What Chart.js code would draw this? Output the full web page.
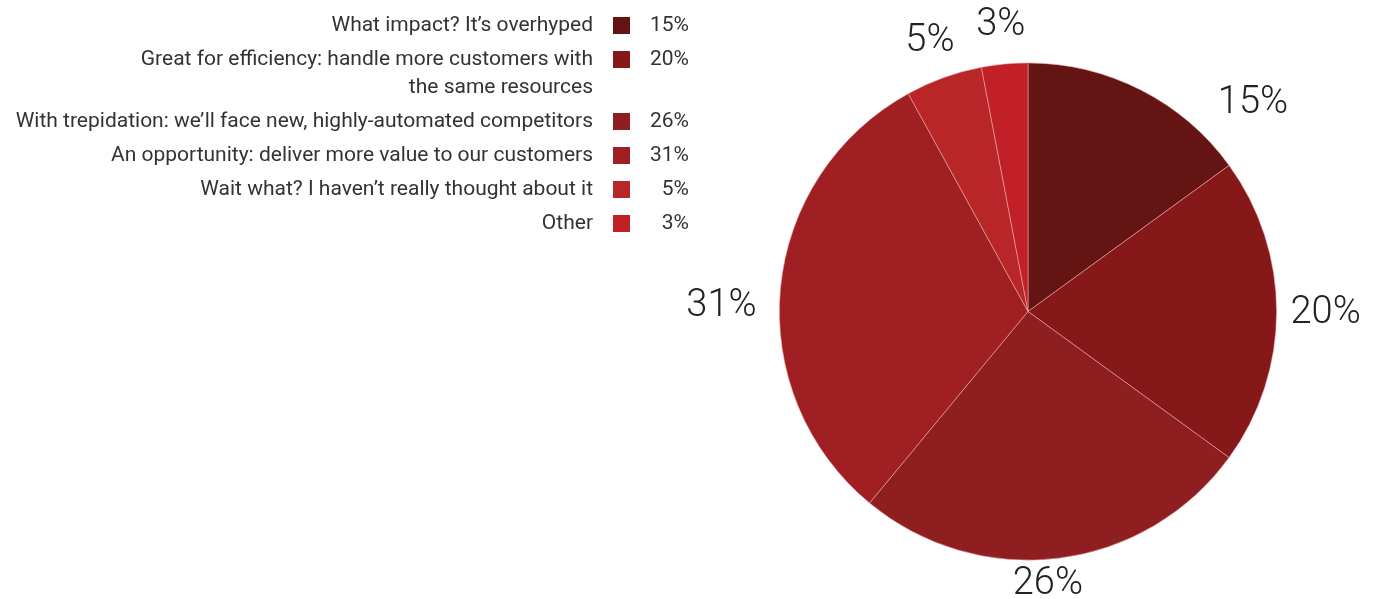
<!DOCTYPE html>
<html lang="en">
<head>
    <meta charset="UTF-8">
    <title>AI impact survey</title>
    <script src="https://cdn.jsdelivr.net/npm/chart.js"></script>
    <style>
        body { margin: 0; background: #fff; }
        #wrap { width: 1380px; height: 599px; position: relative; }
    </style>
</head>
<body>
    <div id="wrap"><canvas id="pieChart"></canvas></div>

    <script>
        // survey answers and share of respondents (%)
        const answers = [
            ['What impact? It\u2019s overhyped'],
            ['Great for efficiency: handle more customers with', 'the same resources'],
            ['With trepidation: we\u2019ll face new, highly-automated competitors'],
            ['An opportunity: deliver more value to our customers'],
            ['Wait what? I haven\u2019t really thought about it'],
            ['Other']
        ];
        const shares = [15, 20, 26, 31, 5, 3];
        const sliceColors = ['#641513', '#86181a', '#8f1e20', '#a01f22', '#b82627', '#c22027'];

        // legend on the left + big % labels around the pie
        const sideLabels = {
            id: 'sideLabels',
            afterDraw(chart, args, opts) {
                const ctx = chart.ctx;
                const values = chart.data.datasets[0].data;
                ctx.save();

                // legend
                ctx.font = '21px Roboto';
                ctx.fillStyle = '#333';
                ctx.textBaseline = 'middle';
                let y = 26;
                answers.forEach((lines, i) => {
                    ctx.textAlign = 'right';
                    lines.forEach((line, j) => {
                        ctx.fillText(line, 593, y + j * 28);
                    });
                    ctx.fillStyle = sliceColors[i];
                    ctx.fillRect(613, y - 9, 17, 17);
                    ctx.fillStyle = '#333';
                    ctx.fillText(values[i] + '%', 689, y);
                    y += 34 + (lines.length - 1) * 28;
                });

                // outer labels
                const meta = chart.getDatasetMeta(0);
                ctx.font = '300 38px Roboto';
                ctx.fillStyle = '#222';
                ctx.textAlign = 'center';
                meta.data.forEach((arc, i) => {
                    const p = arc.getProps(['x', 'y', 'startAngle', 'endAngle', 'outerRadius'], true);
                    const mid = (p.startAngle + p.endAngle) / 2 + (opts.shift[i] || 0) * Math.PI / 180;
                    const d = p.outerRadius + opts.extra[i];
                    ctx.fillText(values[i] + '%', p.x + d * Math.cos(mid), p.y + d * Math.sin(mid) + 2);
                });
                ctx.restore();
            }
        };

        const ctx = document.getElementById('pieChart').getContext('2d');
        new Chart(ctx, {
            type: 'pie',
            data: {
                labels: answers.map(a => a.join(' ')),
                datasets: [{
                    data: shares,
                    backgroundColor: sliceColors,
                    borderColor: 'rgba(235, 170, 170, 0.7)',
                    borderWidth: 0.8
                }]
            },
            options: {
                responsive: true,
                maintainAspectRatio: false,
                animation: false,
                layout: { padding: { left: 779, right: 103, top: 62, bottom: 38 } },
                plugins: {
                    legend: { display: false },
                    tooltip: { enabled: false },
                    sideLabels: {
                        extra: [59, 49, 23, 58, 41, 41],
                        shift: [20, 0, 3, -4, 0, 0]
                    }
                }
            },
            plugins: [sideLabels]
        });
    </script>
</body>
</html>
